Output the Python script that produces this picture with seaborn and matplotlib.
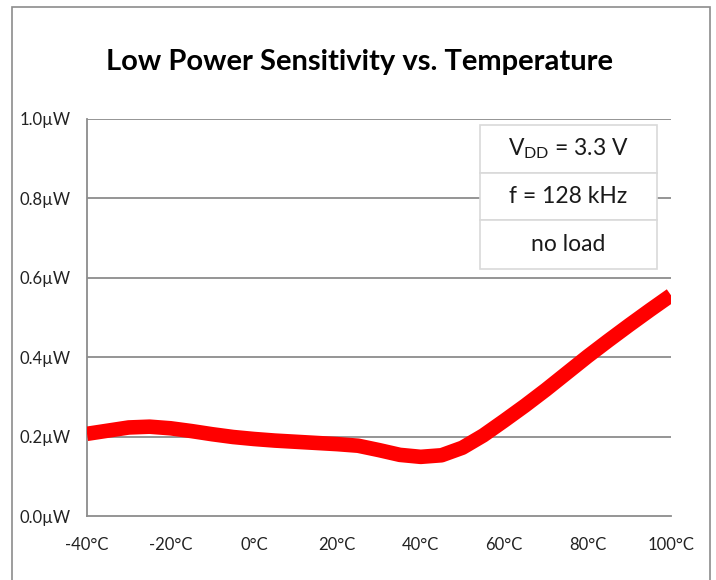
import matplotlib
matplotlib.use("Agg")
import matplotlib.pyplot as plt
import seaborn as sns
import pandas as pd
from matplotlib.patches import Rectangle

temps = [-40, -35, -30, -25, -20, -15, -10, -5, 0, 5, 10, 15, 20, 25, 30, 35, 40,
         45, 50, 55, 60, 65, 70, 75, 80, 85, 90, 95, 100]
power = [0.207, 0.215, 0.223, 0.225, 0.221, 0.214, 0.206, 0.199, 0.194, 0.190,
         0.187, 0.184, 0.181, 0.177, 0.166, 0.154, 0.149, 0.153, 0.172, 0.203,
         0.240, 0.278, 0.318, 0.360, 0.402, 0.442, 0.481, 0.519, 0.556]
x_ticks = [-40, -20, 0, 20, 40, 60, 80, 100]
x_labels = ["-40°C", "-20°C", "0°C", "20°C", "40°C", "60°C", "80°C", "100°C"]
y_ticks = [0.0, 0.2, 0.4, 0.6, 0.8, 1.0]
y_labels = ["0.0µW", "0.2µW", "0.4µW", "0.6µW", "0.8µW", "1.0µW"]
legend_rows = ["V$_{DD}$ = 3.3 V", "f = 128 kHz", "no load"]
title = "Low Power Sensitivity vs. Temperature"

sns.set_style("white")
fam = ["Lato", "DejaVu Sans"]
plt.rcParams["font.family"] = fam
plt.rcParams["mathtext.default"] = "regular"

df = pd.DataFrame({"temp": temps, "power": power})

fig = plt.figure(figsize=(7.16, 5.8), dpi=100)
ax = fig.add_axes([87 / 716, (580 - 516) / 580, (671 - 87) / 716, (516 - 119) / 580])

# outer frame
fig.add_artist(Rectangle((12 / 716, -0.05), (710 - 12) / 716, (580 - 7) / 580 + 0.05,
                         transform=fig.transFigure, fill=False, edgecolor="#8c8c8c",
                         linewidth=1.2, clip_on=False))

for yt in y_ticks[1:]:
    ax.axhline(yt, color="#8c8c8c", linewidth=1.3, zorder=0)

sns.lineplot(data=df, x="temp", y="power", ax=ax, color="#ff0000", linewidth=10.5,
             solid_capstyle="butt", solid_joinstyle="round", zorder=3)

ax.set_xlim(-40, 100)
ax.set_ylim(0, 1.0)
ax.set_xticks(x_ticks)
ax.set_xticklabels(x_labels)
ax.set_yticks(y_ticks)
ax.set_yticklabels(y_labels)
ax.set_xlabel("")
ax.set_ylabel("")
for s in ["top", "right"]:
    ax.spines[s].set_visible(False)
for s in ["left", "bottom"]:
    ax.spines[s].set_color("#8c8c8c")
    ax.spines[s].set_linewidth(1.3)
ax.tick_params(axis="both", which="both", direction="out", colors="#8c8c8c",
               labelcolor="#222222", labelsize=12, width=1.3)
ax.tick_params(axis="y", length=6, pad=6)
ax.tick_params(axis="x", length=8, pad=7)

fig.text(360 / 716, 1 - 62 / 580, title, ha="center", va="center",
         fontsize=21, fontweight="bold", color="black")

# legend-like table box
bx0 = (480 - 87) / 584
bx1 = (657 - 87) / 584
row_edges = [(516 - 125) / 397, (516 - 173) / 397, (516 - 220) / 397, (516 - 269) / 397]
for i, txt in enumerate(legend_rows):
    top = row_edges[i]
    bot = row_edges[i + 1]
    ax.add_patch(Rectangle((bx0, bot), bx1 - bx0, top - bot, transform=ax.transAxes,
                           facecolor="white", edgecolor="#d9d9d9", linewidth=1.2,
                           zorder=5, clip_on=False))
    ax.text((bx0 + bx1) / 2, (top + bot) / 2, txt, transform=ax.transAxes,
            ha="center", va="center", fontsize=16.5, color="#1a1a1a", zorder=6)

fig.savefig("out.png", dpi=100)
